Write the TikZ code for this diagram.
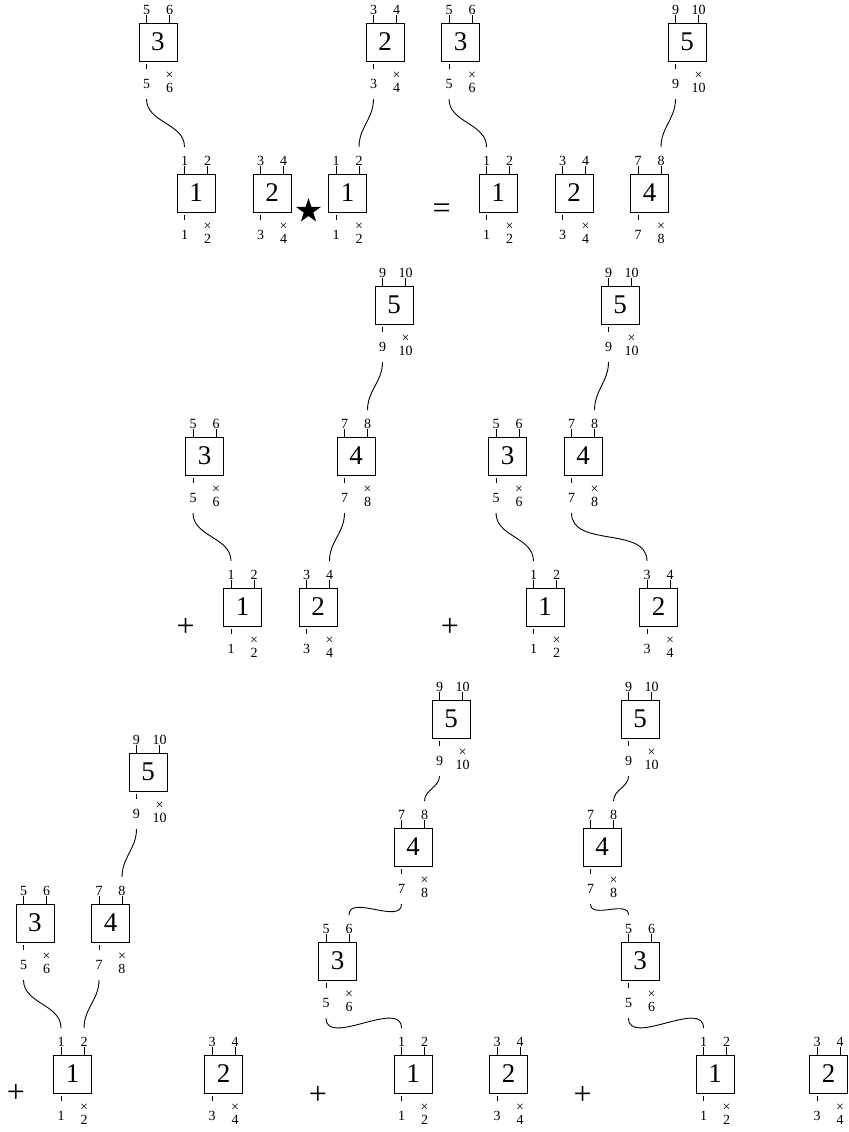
\documentclass[tikz,border=0pt]{standalone}
\usepackage{fontspec}
\setmainfont{Liberation Serif}
\usetikzlibrary{shapes.geometric}
\tikzset{
  tn box/.style={draw, line width=0.5pt, minimum size=19pt, inner sep=0pt, font=\fontsize{13.5}{15}\selectfont},
  tn leg/.style={line width=0.5pt},
  tn idx/.style={inner sep=0pt, font=\fontsize{7}{8}\selectfont},
  tn cross/.style={inner sep=0pt, font=\fontsize{7}{8}\selectfont},
  tn wire/.style={line width=0.45pt},
  tn op/.style={inner sep=0pt, font=\fontsize{16}{18}\selectfont},
}
% one tensor: name, x, y (y counted downwards), number, left index, right index
\newcommand{\tnblock}[6]{%
  \node[tn box] (#1) at (#2,-#3) {#4};
  \draw[tn leg] (#2-11.5,-#3+19) -- (#2-11.5,-#3+27) node[tn idx, anchor=south] (#1-tl) {#5};
  \draw[tn leg] (#2+11.5,-#3+19) -- (#2+11.5,-#3+27) node[tn idx, anchor=south] (#1-tr) {#6};
  \draw[tn leg] (#2-11.5,-#3-22) -- (#2-11.5,-#3-27);
  \node[tn idx] (#1-bl) at (#2-11.5,-#3-41.5) {#5};
  \node[tn cross] (#1-x) at (#2+11.5,-#3-34) {×};
  \node[tn idx] (#1-br) at (#2+11.5,-#3-45.5) {#6};
  \coordinate (#1-out) at (#2-11.5,-#3-57);
  \coordinate (#1-inl) at (#2-11.5,-#3+46);
  \coordinate (#1-inr) at (#2+11.5,-#3+46);
}

\begin{document}
\begin{tikzpicture}[x=0.5pt,y=0.5pt]
  \useasboundingbox (0,0) rectangle (848,-1132);

  % first line: product and its result
  \tnblock{p3}{158}{42}{3}{5}{6}
  \tnblock{p1}{196}{193}{1}{1}{2}
  \tnblock{p2}{272}{193}{2}{3}{4}
  \node[star, star points=5, star point ratio=2.6, fill, inner sep=0pt, minimum size=13pt] (prod) at (308.5,-211) {};
  \tnblock{q2}{385}{42}{2}{3}{4}
  \tnblock{q1}{347.5}{193}{1}{1}{2}
  \node[tn op] (eq) at (441.7,-211) {=};
  \tnblock{r3}{460.5}{42}{3}{5}{6}
  \tnblock{r5}{687}{42}{5}{9}{10}
  \tnblock{r1}{498}{193}{1}{1}{2}
  \tnblock{r2}{574}{193}{2}{3}{4}
  \tnblock{r4}{649.5}{193}{4}{7}{8}
  \draw[tn wire] (p3-out) to[out=-90,in=90] (p1-inl);
  \draw[tn wire] (q2-out) to[out=-90,in=90] (q1-inr);
  \draw[tn wire] (r3-out) to[out=-90,in=90] (r1-inl);
  \draw[tn wire] (r5-out) to[out=-90,in=90] (r4-inr);

  % second line
  \node[tn op] (plus1) at (185.7,-627) {+};
  \tnblock{t5}{394}{305}{5}{9}{10}
  \tnblock{t3}{204.5}{456}{3}{5}{6}
  \tnblock{t4}{356}{456}{4}{7}{8}
  \tnblock{t1}{242.5}{607}{1}{1}{2}
  \tnblock{t2}{318}{607}{2}{3}{4}
  \draw[tn wire] (t5-out) to[out=-90,in=90] (t4-inr);
  \draw[tn wire] (t3-out) to[out=-90,in=90] (t1-inl);
  \draw[tn wire] (t4-out) to[out=-90,in=90] (t2-inr);

  \node[tn op] (plus2) at (450,-627) {+};
  \tnblock{u5}{620}{305}{5}{9}{10}
  \tnblock{u3}{507.5}{456}{3}{5}{6}
  \tnblock{u4}{583}{456}{4}{7}{8}
  \tnblock{u1}{545}{607}{1}{1}{2}
  \tnblock{u2}{658.5}{607}{2}{3}{4}
  \draw[tn wire] (u5-out) to[out=-90,in=90] (u4-inr);
  \draw[tn wire] (u3-out) to[out=-90,in=90] (u1-inl);
  \draw[tn wire] (u4-out) to[out=-90,in=90] (u2-inl);

  % third line
  \node[tn op] (plus3) at (15.8,-1093) {+};
  \tnblock{v5}{148}{772}{5}{9}{10}
  \tnblock{v3}{35}{923}{3}{5}{6}
  \tnblock{v4}{110.5}{923}{4}{7}{8}
  \tnblock{v1}{72.5}{1074}{1}{1}{2}
  \tnblock{v2}{223.5}{1074}{2}{3}{4}
  \draw[tn wire] (v5-out) to[out=-90,in=90] (v4-inr);
  \draw[tn wire] (v3-out) to[out=-90,in=90] (v1-inl);
  \draw[tn wire] (v4-out) to[out=-90,in=90] (v1-inr);

  \node[tn op] (plus4) at (318,-1095) {+};
  \tnblock{w5}{451}{719}{5}{9}{10}
  \tnblock{w4}{413}{847}{4}{7}{8}
  \tnblock{w3}{337.5}{961}{3}{5}{6}
  \tnblock{w1}{413}{1074}{1}{1}{2}
  \tnblock{w2}{508.5}{1074}{2}{3}{4}
  \draw[tn wire] (w5-out) to[out=-90,in=90] (w4-inr);
  \draw[tn wire] (w4-out) to[out=-90,in=90] (w3-inr);
  \draw[tn wire] (w3-out) to[out=-90,in=90] (w1-inl);

  \node[tn op] (plus5) at (582.7,-1095) {+};
  \tnblock{z5}{640}{719}{5}{9}{10}
  \tnblock{z4}{602}{847}{4}{7}{8}
  \tnblock{z3}{640}{961}{3}{5}{6}
  \tnblock{z1}{715}{1074}{1}{1}{2}
  \tnblock{z2}{828.5}{1074}{2}{3}{4}
  \draw[tn wire] (z5-out) to[out=-90,in=90] (z4-inr);
  \draw[tn wire] (z4-out) to[out=-90,in=90] (z3-inl);
  \draw[tn wire] (z3-out) to[out=-90,in=90] (z1-inl);
\end{tikzpicture}
\end{document}
